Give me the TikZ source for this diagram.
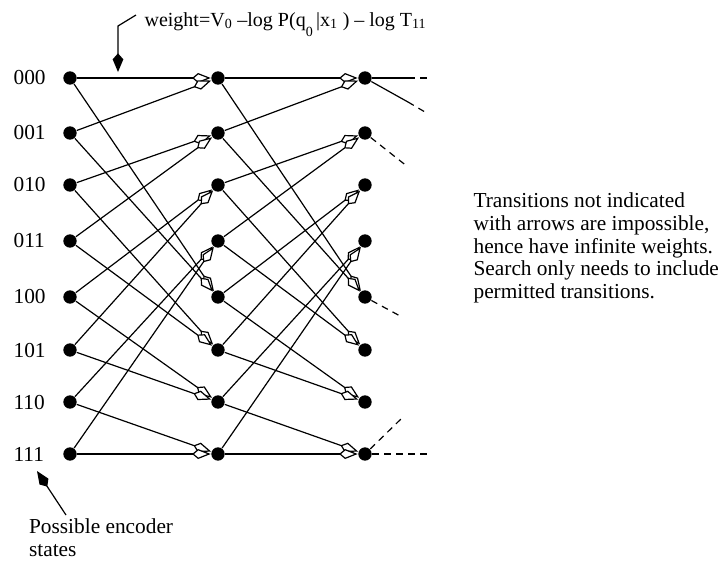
\documentclass[tikz,border=0pt]{standalone}
\usepackage{fontspec}
\setmainfont{Liberation Serif}
\usetikzlibrary{arrows.meta}

\tikzset{every picture/.style={line width=0.9pt}}
\tikzset{
  state/.style={circle,fill=black,inner sep=0pt,minimum size=10pt},
  trans/.style={-{Kite[length=14pt,width=7.5pt,inset=4.5pt,fill=white]}},
  pointer/.style={-{Kite[length=14pt,width=8pt,inset=4.5pt]}},
  txt/.style={inner sep=0.75pt,font=\fontsize{16}{17}\selectfont},
  cont/.style={dash pattern=on 5pt off 4pt}
}

\begin{document}
\begin{tikzpicture}[x=0.75pt,y=0.75pt,yscale=-1,xscale=1]
\useasboundingbox (0,0) rectangle (721,562);

%Shape: Circle (first stage)
\node (a0) [state] at (70,78) {};
\node (a1) [state] at (70,133) {};
\node (a2) [state] at (70,185) {};
\node (a3) [state] at (70,241) {};
\node (a4) [state] at (70,297) {};
\node (a5) [state] at (70,350) {};
\node (a6) [state] at (70,402) {};
\node (a7) [state] at (70,454) {};
%Shape: Circle (second stage)
\node (b0) [state] at (218,78) {};
\node (b1) [state] at (218,133) {};
\node (b2) [state] at (218,185) {};
\node (b3) [state] at (218,241) {};
\node (b4) [state] at (218,297) {};
\node (b5) [state] at (218,350) {};
\node (b6) [state] at (218,402) {};
\node (b7) [state] at (218,454) {};
%Shape: Circle (third stage)
\node (c0) [state] at (365,78) {};
\node (c1) [state] at (365,133) {};
\node (c2) [state] at (365,185) {};
\node (c3) [state] at (365,241) {};
\node (c4) [state] at (365,297) {};
\node (c5) [state] at (365,350) {};
\node (c6) [state] at (365,402) {};
\node (c7) [state] at (365,454) {};

%Straight Lines (first stage)
\draw [trans] (a0) -- (b0) ;
\draw [trans] (a0) -- (b4) ;
\draw [trans] (a1) -- (b0) ;
\draw [trans] (a1) -- (b4) ;
\draw [trans] (a2) -- (b1) ;
\draw [trans] (a2) -- (b5) ;
\draw [trans] (a3) -- (b1) ;
\draw [trans] (a3) -- (b5) ;
\draw [trans] (a4) -- (b2) ;
\draw [trans] (a4) -- (b6) ;
\draw [trans] (a5) -- (b2) ;
\draw [trans] (a5) -- (b6) ;
\draw [trans] (a6) -- (b3) ;
\draw [trans] (a6) -- (b7) ;
\draw [trans] (a7) -- (b3) ;
\draw [trans] (a7) -- (b7) ;
%Straight Lines (second stage)
\draw [trans] (b0) -- (c0) ;
\draw [trans] (b0) -- (c4) ;
\draw [trans] (b1) -- (c0) ;
\draw [trans] (b1) -- (c4) ;
\draw [trans] (b2) -- (c1) ;
\draw [trans] (b2) -- (c5) ;
\draw [trans] (b3) -- (c1) ;
\draw [trans] (b3) -- (c5) ;
\draw [trans] (b4) -- (c2) ;
\draw [trans] (b4) -- (c6) ;
\draw [trans] (b5) -- (c2) ;
\draw [trans] (b5) -- (c6) ;
\draw [trans] (b6) -- (c3) ;
\draw [trans] (b6) -- (c7) ;
\draw [trans] (b7) -- (c3) ;
\draw [trans] (b7) -- (c7) ;

%Straight Lines (continuation)
\coordinate (e0) at (408,78) ;
\coordinate (f0) at (427,78) ;
\coordinate (e1) at (408,102) ;
\coordinate (f1) at (425,112) ;
\coordinate (f2) at (408,167) ;
\coordinate (f3) at (402,317) ;
\coordinate (f4) at (403,417) ;
\coordinate (f5) at (427,454) ;
\draw (c0) -- (e0) ;
\draw [cont] (e0) -- (f0) ;
\draw (c0) -- (e1) ;
\draw [cont] (e1) -- (f1) ;
\draw [cont] (c1) -- (f2) ;
\draw [cont] (c4) -- (f3) ;
\draw [cont] (c7) -- (f4) ;
\draw [cont] (c7) -- (f5) ;

% Text Node
\node (l0) [txt,anchor=west] at (12,78) {000};
\node (l1) [txt,anchor=west] at (12,133) {001};
\node (l2) [txt,anchor=west] at (12,185) {010};
\node (l3) [txt,anchor=west] at (12,241) {011};
\node (l4) [txt,anchor=west] at (12,297) {100};
\node (l5) [txt,anchor=west] at (12,350) {101};
\node (l6) [txt,anchor=west] at (12,402) {110};
\node (l7) [txt,anchor=west] at (12,454) {111};

% Text Node
\node (wlabel) [txt,anchor=base west,font=\fontsize{15}{17}\selectfont] at (143,26) {weight=V\textsubscript{0} --log P(q\raisebox{-8pt}{\fontsize{10.5}{11}\selectfont 0}\,|x\textsubscript{1}\ ) -- log T\textsubscript{11}};
\coordinate (wstart) at (136,15) ;
\coordinate (wbend) at (118,26) ;
\coordinate (wtip) at (118,72) ;
\draw [pointer] (wstart) -- (wbend) -- (wtip) ;

% Text Node
\node (note) [txt,anchor=north west,align=left] at (472,191.5) {Transitions not indicated\\with arrows are impossible,\\hence have infinite weights.\\Search only needs to include\\permitted transitions.};

% Text Node
\node (enc) [txt,anchor=north west,align=left] at (27.5,517) {Possible encoder\\states};
\coordinate (pstart) at (66,515) ;
\coordinate (ptip) at (37,471) ;
\draw [pointer] (pstart) -- (ptip) ;

\end{tikzpicture}
\end{document}
